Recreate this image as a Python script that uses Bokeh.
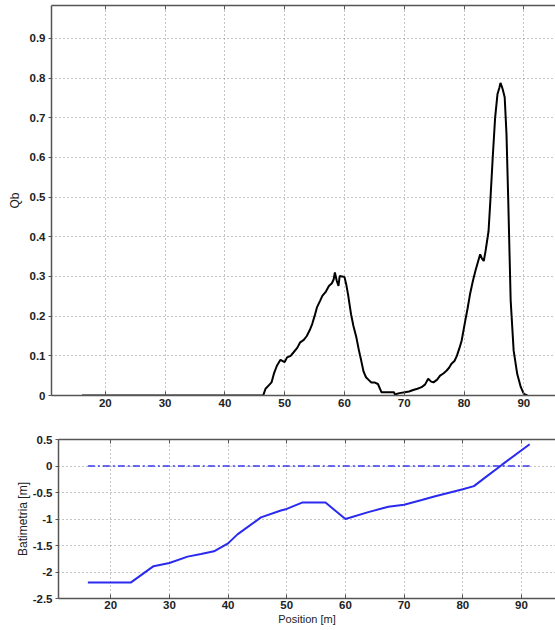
from bokeh.plotting import figure
from bokeh.models import LinearAxis, FixedTicker, Range1d
from bokeh.embed import file_html
from bokeh.resources import INLINE

# ---- data ----
qb_pos = [16.1, 46.4, 46.5, 46.8, 47.3, 47.8, 48.2, 48.7, 49.3, 50.0, 50.4, 51.0, 51.5, 52.1,
          52.6, 53.2, 53.7, 54.2, 54.6, 55.0, 55.4, 55.9, 56.3, 56.9, 57.4, 57.9, 58.2, 58.4,
          58.7, 59.0, 59.2, 59.6, 60.0, 60.3, 60.6, 61.1, 61.5, 62.0, 62.4, 62.8, 63.2, 63.6,
          64.0, 64.5, 65.0, 65.6, 66.2, 67.0, 67.6, 68.3, 68.5, 68.7, 69.2, 70.1, 70.8, 71.5,
          72.2, 72.9, 73.5, 74.0, 74.5, 74.9, 75.5, 76.0, 76.6, 77.1, 77.5, 77.9, 78.4, 78.8,
          79.2, 79.6, 80.2, 80.6, 81.0, 81.5, 81.9, 82.3, 82.7, 83.0, 83.3, 83.6, 84.1, 84.4,
          84.8, 85.2, 85.6, 85.9, 86.1, 86.3, 86.5, 86.8, 87.1, 87.4, 87.8, 88.3, 88.9, 89.5,
          90.0, 90.6]
qb_val = [0.0, 0.0, 0.004, 0.017, 0.025, 0.033, 0.055, 0.075, 0.09, 0.084, 0.096, 0.1, 0.109, 0.12,
          0.134, 0.14, 0.15, 0.165, 0.18, 0.2, 0.222, 0.238, 0.251, 0.262, 0.276, 0.283, 0.293, 0.31,
          0.29, 0.276, 0.301, 0.3, 0.299, 0.28, 0.255, 0.205, 0.175, 0.146, 0.115, 0.088, 0.06, 0.046,
          0.04, 0.033, 0.033, 0.029, 0.008, 0.008, 0.008, 0.008, 0.0, 0.004, 0.006, 0.008, 0.01, 0.014,
          0.017, 0.021, 0.028, 0.042, 0.035, 0.033, 0.04, 0.05, 0.056, 0.063, 0.07, 0.08, 0.087, 0.1,
          0.118, 0.138, 0.188, 0.22, 0.255, 0.29, 0.314, 0.335, 0.356, 0.345, 0.339, 0.364, 0.414, 0.49,
          0.6, 0.7, 0.76, 0.775, 0.788, 0.78, 0.77, 0.752, 0.66, 0.49, 0.24, 0.113, 0.054, 0.021,
          0.004, 0.0]

bat_pos = [16.1, 23.4, 27.3, 30.0, 33.1, 35.4, 37.6, 40.0, 41.6, 45.6, 49.0, 50.0, 52.6, 56.6,
           60.0, 63.9, 67.3, 70.0, 73.0, 75.3, 78.5, 80.0, 81.9, 83.9, 86.7, 91.4]
bat_val = [-2.2, -2.2, -1.89, -1.83, -1.71, -1.66, -1.61, -1.46, -1.29, -0.97, -0.84, -0.81, -0.69, -0.69,
           -1.0, -0.87, -0.77, -0.73, -0.64, -0.57, -0.48, -0.44, -0.38, -0.21, 0.025, 0.41]

water_pos = [16.1, 91.4]
water_val = [0.0, 0.0]

x_ticks = [20, 30, 40, 50, 60, 70, 80, 90]
qb_ticks = [0, 0.1, 0.2, 0.3, 0.4, 0.5, 0.6, 0.7, 0.8, 0.9]
bat_ticks = [0.5, 0, -0.5, -1, -1.5, -2, -2.5]

FONT = "Liberation Sans"
AX = "#555555"
GRID = "#8a8a8a"
TXT = "#222222"


def style_axis(ax, ticks, vertical=False):
    ax.ticker = FixedTicker(ticks=ticks)
    if vertical:
        ax.major_tick_in = 0
        ax.major_tick_out = 3
    else:
        ax.major_tick_in = 4
        ax.major_tick_out = 0
    ax.minor_tick_line_color = None
    ax.axis_line_color = AX
    ax.axis_line_width = 1.5
    ax.major_tick_line_color = AX
    ax.major_label_text_font = FONT
    ax.major_label_text_font_size = "11.5px"
    ax.major_label_text_font_style = "bold"
    ax.major_label_text_color = TXT
    ax.major_label_standoff = 3
    ax.axis_label_text_font = FONT
    ax.axis_label_text_font_style = "normal"
    ax.axis_label_text_color = TXT
    ax.major_label_overrides = {t: f"{t:g}" for t in ticks}


def top_axis(p, ticks):
    a = LinearAxis(ticker=FixedTicker(ticks=ticks))
    a.major_tick_in = 4
    a.major_tick_out = 0
    a.minor_tick_line_color = None
    a.axis_line_color = AX
    a.axis_line_width = 1.5
    a.major_tick_line_color = AX
    a.major_label_overrides = {t: "" for t in ticks}
    a.major_label_text_font_size = "1px"
    a.major_label_standoff = 0
    p.add_layout(a, "above")


def style_grid(p, yt):
    p.xgrid.ticker = FixedTicker(ticks=x_ticks)
    p.ygrid.ticker = FixedTicker(ticks=yt)
    for g in (p.xgrid, p.ygrid):
        g.grid_line_color = GRID
        g.grid_line_dash = "1 3"
        g.grid_line_width = 1


# ---- top: Qb ----
p1 = figure(width=555, height=418, x_range=Range1d(11, 95.3), y_range=Range1d(0, 0.983),
            output_backend="svg", toolbar_location=None,
            min_border_left=51, min_border_right=0, min_border_top=5, min_border_bottom=23)
p1.outline_line_color = None
style_axis(p1.xaxis[0], x_ticks)
style_axis(p1.yaxis[0], qb_ticks, vertical=True)
p1.yaxis[0].axis_label = "Qb"
p1.yaxis[0].axis_label_text_font_size = "12px"
p1.yaxis[0].axis_label_standoff = 5
top_axis(p1, x_ticks)
style_grid(p1, qb_ticks)
p1.line(qb_pos, qb_val, line_color="black", line_width=2)

# ---- bottom: Batimetria ----
p2 = figure(width=555, height=212, x_range=Range1d(11.1, 95.8), y_range=Range1d(-2.5, 0.5),
            output_backend="svg", toolbar_location=None,
            min_border_left=58, min_border_right=0, min_border_top=21, min_border_bottom=32)
p2.outline_line_color = None
style_axis(p2.xaxis[0], x_ticks)
style_axis(p2.yaxis[0], bat_ticks, vertical=True)
p2.xaxis[0].axis_label = "Position [m]"
p2.xaxis[0].axis_label_text_font_size = "11px"
p2.xaxis[0].axis_label_standoff = 1
p2.xaxis[0].major_label_standoff = 2
p2.yaxis[0].axis_label = "Batimetria [m]"
p2.yaxis[0].axis_label_text_font_size = "12px"
p2.yaxis[0].axis_label_standoff = 0
top_axis(p2, x_ticks)
style_grid(p2, bat_ticks)
p2.line(water_pos, water_val, line_color="#3a3aee", line_width=1.5, line_dash="7 3 2 3")
p2.line(bat_pos, bat_val, line_color="#2a2aee", line_width=2)

open("out.html", "w").write(file_html([p1, p2], INLINE))
